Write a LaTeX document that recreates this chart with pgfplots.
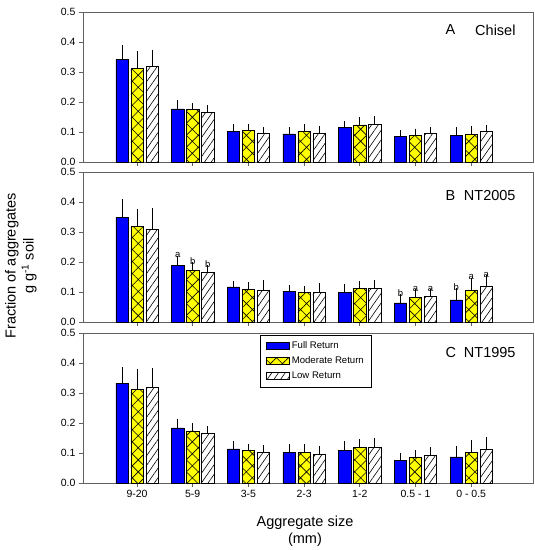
\documentclass[border=0pt]{standalone}
\usepackage{fontspec}
\setmainfont{Liberation Sans}
\usepackage{pgfplots}
\pgfplotsset{compat=1.18}
\usepackage{pgfplotstable}
\usetikzlibrary{patterns.meta}

\definecolor{fullblue}{RGB}{0,0,255}
\definecolor{modyellow}{RGB}{255,255,0}
\definecolor{framegray}{RGB}{96,96,96}

% x: 0 = 9-20 ... 6 = 0-0.5 ; f/m/l = full/moderate/low return, *e = upper error
\pgfplotstableread{
x f     fe    m     me    l     le
0 0.342 0.037 0.312 0.047 0.320 0.043
1 0.177 0.017 0.176 0.009 0.165 0.012
2 0.102 0.012 0.105 0.011 0.097 0.008
3 0.094 0.011 0.103 0.012 0.097 0.011
4 0.115 0.010 0.124 0.014 0.126 0.017
5 0.085 0.010 0.090 0.010 0.095 0.011
6 0.090 0.015 0.093 0.014 0.102 0.011
}\chisel

\pgfplotstableread{
x f     fe    m     me    l     le
0 0.349 0.049 0.318 0.046 0.308 0.062
1 0.189 0.021 0.173 0.015 0.166 0.013
2 0.117 0.009 0.108 0.013 0.106 0.021
3 0.102 0.009 0.100 0.009 0.098 0.020
4 0.100 0.016 0.112 0.013 0.112 0.018
5 0.064 0.017 0.082 0.017 0.085 0.014
6 0.074 0.028 0.106 0.030 0.119 0.026
}\ntA

\pgfplotstableread{
x f     fe    m     me    l     le
0 0.333 0.041 0.311 0.058 0.320 0.051
1 0.184 0.019 0.174 0.014 0.165 0.014
2 0.114 0.014 0.109 0.011 0.102 0.013
3 0.101 0.018 0.102 0.015 0.096 0.016
4 0.109 0.019 0.118 0.017 0.118 0.020
5 0.075 0.014 0.085 0.014 0.091 0.016
6 0.087 0.024 0.102 0.029 0.113 0.030
}\ntB

\tikzset{
  tag/.style={font=\fontsize{14.5}{16}\selectfont},
  sig/.style={anchor=south, inner sep=1pt, font=\fontsize{9.5}{10}\selectfont},
}

\pgfplotsset{
  panel/.style={
    width=450pt, height=150pt, scale only axis,
    ybar=2.7pt, bar width=12.3pt,
    xmin=-0.97, xmax=7.11, ymin=0, ymax=0.5,
    xtick={0,...,6}, ytick={0,0.1,...,0.5},
    yticklabel style={/pgf/number format/.cd, fixed, fixed zerofill, precision=1},
    /pgf/number format/assume math mode=true,
    tick align=outside, tick pos=left, major tick length=4pt,
    axis line style={framegray, line width=0.7pt},
    every tick/.style={framegray, line width=0.7pt},
    tick label style={font=\fontsize{10.5}{12}\selectfont},
    clip=false,
  },
  barbase/.style={draw=black, line width=0.6pt,
    error bars/y dir=plus, error bars/y explicit,
    error bars/error bar style={black, line width=0.7pt},
    error bars/error mark options={black, mark size=3.5pt, line width=0.7pt},
    legend image code/.code={\draw[##1] (0pt,-3.5pt) rectangle (23pt,3.5pt);}},
  fullbar/.style={barbase, fill=fullblue},
  modbar/.style={barbase, fill=modyellow,
    postaction={pattern={Hatch[angle=45,distance=8.5pt,line width=0.6pt]}}},
  lowbar/.style={barbase, fill=white,
    postaction={pattern={Lines[angle=55,distance=5.5pt,line width=0.6pt]}}},
}

\begin{document}
\begin{tikzpicture}
\path[use as bounding box] (-83pt,-67pt) rectangle (452pt,483pt);

% A Chisel
\begin{axis}[panel, at={(0pt,321pt)}, xticklabels={}]
\addplot[fullbar] table[x=x, y=f, y error=fe] {\chisel};
\addplot[modbar] table[x=x, y=m, y error=me] {\chisel};
\addplot[lowbar] table[x=x, y=l, y error=le] {\chisel};
\node[tag, anchor=west] at (rel axis cs:0.798,0.88) {A};
\node[tag, anchor=east] at (rel axis cs:0.969,0.88) {Chisel};
\end{axis}

% B NT2005
\begin{axis}[panel, at={(0pt,161pt)}, xticklabels={}]
\addplot[fullbar] table[x=x, y=f, y error=fe] {\ntA};
\addplot[modbar] table[x=x, y=m, y error=me] {\ntA};
\addplot[lowbar] table[x=x, y=l, y error=le] {\ntA};
% significance letters above the error bars
\node[sig, xshift=-15pt] at (axis cs:1,0.210) {a};
\node[sig]               at (axis cs:1,0.188) {b};
\node[sig, xshift=15pt]  at (axis cs:1,0.179) {b};
\node[sig, xshift=-15pt] at (axis cs:5,0.081) {b};
\node[sig]               at (axis cs:5,0.099) {a};
\node[sig, xshift=15pt]  at (axis cs:5,0.099) {a};
\node[sig, xshift=-15pt] at (axis cs:6,0.102) {b};
\node[sig]               at (axis cs:6,0.136) {a};
\node[sig, xshift=15pt]  at (axis cs:6,0.145) {a};
\node[tag, anchor=west] at (rel axis cs:0.798,0.84) {B};
\node[tag, anchor=east] at (rel axis cs:0.969,0.84) {NT2005};
\end{axis}

% C NT1995
\begin{axis}[panel, at={(0pt,0pt)},
  xticklabels={9-20,5-9,3-5,2-3,1-2,0.5 - 1,0 - 0.5},
  legend style={at={(rel axis cs:0.393,0.99)}, anchor=north west,
    draw=black, line width=0.7pt, font=\fontsize{9.6}{11}\selectfont,
    inner xsep=6pt, inner ysep=5pt, row sep=2.5pt,
    /tikz/every even column/.append style={column sep=5pt}},
  legend cell align=left]
\addplot[fullbar] table[x=x, y=f, y error=fe] {\ntB};
\addlegendentry{Full Return}
\addplot[modbar] table[x=x, y=m, y error=me] {\ntB};
\addlegendentry{Moderate Return}
\addplot[lowbar] table[x=x, y=l, y error=le] {\ntB};
\addlegendentry{Low Return}
\node[tag, anchor=west] at (rel axis cs:0.798,0.873) {C};
\node[tag, anchor=east] at (rel axis cs:0.969,0.873) {NT1995};
\end{axis}

\node[rotate=90, align=center, font=\fontsize{14.5}{18}\selectfont] at (-62pt,217pt)
  {Fraction of aggregates\\g g\textsuperscript{-1} soil};
\node[align=center, font=\fontsize{14.5}{17}\selectfont] at (222pt,-48pt)
  {Aggregate size\\(mm)};
\end{tikzpicture}
\end{document}
